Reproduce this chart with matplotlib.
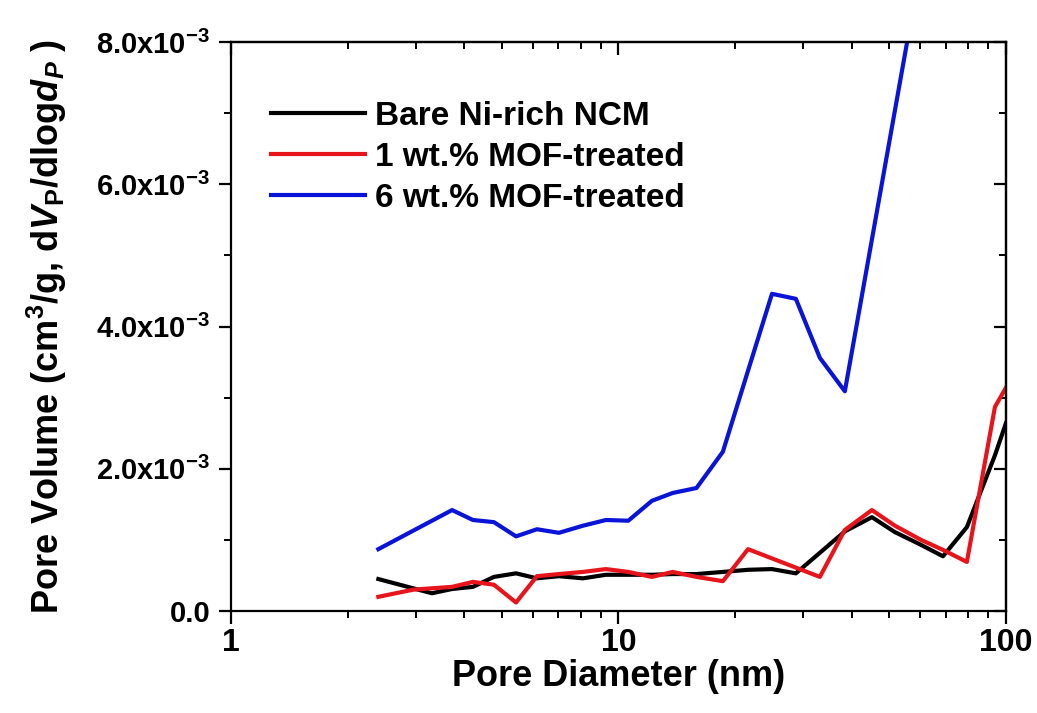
import numpy as np
import matplotlib
matplotlib.use('Agg')
import matplotlib.pyplot as plt
from matplotlib.ticker import LogLocator, NullFormatter, MultipleLocator

plt.rcParams['font.family'] = ['Liberation Sans', 'DejaVu Sans']
plt.rcParams['font.weight'] = 'bold'
plt.rcParams['mathtext.fontset'] = 'custom'
plt.rcParams['mathtext.rm'] = 'Liberation Sans:bold'
plt.rcParams['mathtext.bf'] = 'Liberation Sans:bold'
plt.rcParams['mathtext.it'] = 'Liberation Sans:bold:italic'
plt.rcParams['mathtext.default'] = 'bf'

# pore diameter (nm) and dV/dlogd values (x1e-3 cm3/g)
bare_d = [2.40, 2.95, 3.30, 3.72, 4.21, 4.77, 5.44, 6.16, 7.02, 8.10, 9.28, 10.6,
          12.2, 13.8, 15.9, 18.6, 21.6, 24.9, 28.7, 38.4, 45.1, 51.7, 60.4, 68.8,
          79.3, 93.7, 100]
bare_v = [0.45, 0.32, 0.25, 0.31, 0.34, 0.48, 0.53, 0.46, 0.49, 0.46, 0.51, 0.51,
          0.51, 0.52, 0.52, 0.55, 0.58, 0.59, 0.53, 1.12, 1.32, 1.11, 0.93, 0.77,
          1.18, 2.19, 2.64]

mof1_d = [2.40, 2.95, 3.30, 3.72, 4.21, 4.77, 5.44, 6.16, 7.02, 8.10, 9.28, 10.6,
          12.2, 13.8, 15.9, 18.6, 21.6, 33.1, 38.4, 45.1, 51.7, 60.4, 68.8, 79.3,
          93.7, 100]
mof1_v = [0.20, 0.30, 0.32, 0.34, 0.41, 0.37, 0.12, 0.49, 0.52, 0.55, 0.59, 0.55,
          0.48, 0.55, 0.48, 0.42, 0.87, 0.48, 1.14, 1.42, 1.20, 1.00, 0.86, 0.69,
          2.87, 3.14]

mof6_d = [2.40, 3.72, 4.21, 4.77, 5.44, 6.16, 7.02, 8.10, 9.28, 10.6, 12.2, 13.8,
          15.9, 18.6, 21.6, 24.9, 28.7, 33.1, 38.4, 60.4, 68.8]
mof6_v = [0.87, 1.42, 1.28, 1.25, 1.05, 1.15, 1.10, 1.20, 1.28, 1.27, 1.55, 1.66,
          1.73, 2.24, 3.38, 4.46, 4.39, 3.56, 3.09, 9.1, 11.0]

labels = ['Bare Ni-rich NCM', '1 wt.% MOF-treated', '6 wt.% MOF-treated']
colors = ['black', '#e8141c', '#0a14d8']

yticks = [0, 2, 4, 6, 8]
ytick_labels = ['0.0'] + ['%d.0x10$^{-3}$' % t for t in yticks[1:]]

fig = plt.figure(figsize=(10.37, 7.13), dpi=100)
ax = fig.add_axes([0.2228, 0.143, 0.7472, 0.798])

for d, v, lab, c in zip([bare_d, mof1_d, mof6_d], [bare_v, mof1_v, mof6_v], labels, colors):
    ax.plot(d, np.array(v) * 1e-3, color=c, lw=3, label=lab)

ax.set_xscale('log')
ax.set_xlim(1, 100)
ax.set_ylim(0, 8e-3)
ax.set_xticks([1, 10, 100])
ax.set_xticklabels(['1', '10', '100'])
ax.xaxis.set_minor_locator(LogLocator(base=10, subs=np.arange(2, 10)))
ax.xaxis.set_minor_formatter(NullFormatter())
ax.set_yticks(np.array(yticks) * 1e-3)
ax.set_yticklabels(ytick_labels)
ax.yaxis.set_minor_locator(MultipleLocator(1e-3))

for s in ax.spines.values():
    s.set_linewidth(1.6)
ax.tick_params(which='major', direction='out', length=9, width=1.6)
ax.tick_params(which='minor', direction='out', length=5, width=1.4)
ax.tick_params(axis='x', labelsize=23, pad=3)
ax.tick_params(axis='y', labelsize=21, pad=6)

# mirrored ticks pointing inward on top and right
top = ax.secondary_xaxis('top')
top.set_xticks([1, 10, 100])
top.xaxis.set_minor_locator(LogLocator(base=10, subs=np.arange(2, 10)))
top.tick_params(which='major', direction='in', length=9, width=1.6, labeltop=False)
top.tick_params(which='minor', direction='in', length=5, width=1.4, labeltop=False)
top.spines['top'].set_linewidth(1.6)
right = ax.secondary_yaxis('right')
right.set_yticks(np.array(yticks) * 1e-3)
right.yaxis.set_minor_locator(MultipleLocator(1e-3))
right.tick_params(which='major', direction='in', length=9, width=1.6, labelright=False)
right.tick_params(which='minor', direction='in', length=5, width=1.4, labelright=False)
right.spines['right'].set_linewidth(1.6)

ax.set_xlabel('Pore Diameter (nm)', fontsize=26, fontweight='bold', labelpad=1)
ax.set_ylabel(r'Pore Volume (cm$^{3}$/g, d$\mathit{V}_{\mathrm{P}}$/dlog$\mathit{d}_{\mathit{P}}$ )',
              fontsize=26, fontweight='bold', labelpad=20)

ax.legend(loc='upper left', bbox_to_anchor=(0.035, 0.92), frameon=False, fontsize=24,
          handlelength=2.8, handletextpad=0.3, labelspacing=0.3, borderaxespad=0)

fig.savefig('out.png', dpi=100)
